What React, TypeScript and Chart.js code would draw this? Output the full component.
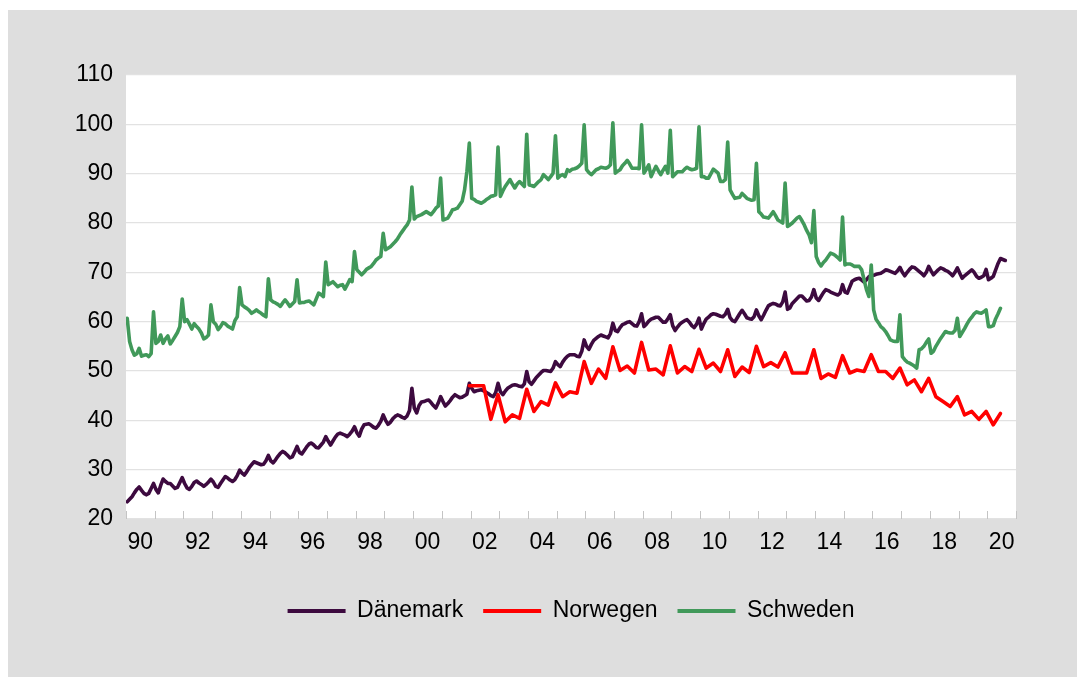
import React, { useEffect, useRef } from "react";
import { Chart, registerables } from "chart.js";

Chart.register(...registerables);

// ---------- data ----------
const startYear = 1990;
const endYear = 2021;
const xTickYears = [1990, 1992, 1994, 1996, 1998, 2000, 2002, 2004, 2006, 2008, 2010, 2012, 2014, 2016, 2018, 2020];
const xTickLabels = ["90", "92", "94", "96", "98", "00", "02", "04", "06", "08", "10", "12", "14", "16", "18", "20"];
const yMin = 20;
const yMax = 110;
const yStep = 10;

const seriesNames = ["Dänemark", "Norwegen", "Schweden"];
const seriesColors = ["#3d0a3f", "#ff0000", "#41995a"];

// monthly, from Jan 1990
const denmark = [
  23.5, 24, 24.5, 25.3, 26, 26.5, 25.8, 25.2, 24.9, 25.2, 26.2, 27.2,
  26, 25.3, 26.8, 28.1, 27.6, 27.2, 27.2, 26.7, 26.2, 26.4, 27.4, 28.4,
  27.2, 26.3, 26, 26.6, 27.4, 27.7, 27.3, 27, 26.6, 27, 27.5, 28.1,
  27.5, 26.6, 26.4, 27.2, 27.9, 28.6, 28.3, 27.9, 27.6, 28, 28.8, 29.9,
  29.3, 28.9, 29.6, 30.4, 31, 31.6, 31.4, 31.2, 31, 31.1, 31.8, 32.9,
  31.8, 31.4, 32, 32.7, 33.3, 33.7, 33.4, 32.9, 32.4, 32.6, 33.6, 34.7,
  33.5, 33.2, 33.9, 34.6, 35.2, 35.4, 35, 34.5, 34.4, 35, 35.6, 36.7,
  35.8, 35, 35.8, 36.6, 37.2, 37.4, 37.2, 37, 36.7, 37.2, 37.8, 38.7,
  37.5, 36.8, 38.2, 39.1, 39.2, 39.3, 39, 38.6, 38.4, 39, 39.8, 41.1,
  40, 39.2, 39.6, 40.3, 40.8, 41.1, 40.9, 40.6, 40.4, 40.9, 42, 46.5,
  42.5, 41.5, 43, 43.7, 43.8, 44, 44.1, 43.6, 43, 42.5, 43.5, 44.8,
  43.8, 42.9, 43.4, 44, 44.7, 45.2, 44.9, 44.6, 44.7, 45, 45.3, 47.5,
  46.5, 45.8, 46, 46.1, 46.2, 46, 45.7, 45.4, 45, 44.8, 45.6, 47.5,
  45.8, 45.2, 45.9, 46.5, 46.8, 47.1, 47.2, 47.1, 46.9, 46.8, 47.4, 49.9,
  47.8, 47.3, 48, 48.7, 49.2, 49.7, 50.1, 50.1, 50, 49.9, 50.6, 51.9,
  51.3, 50.9, 51.8, 52.5, 53, 53.3, 53.3, 53.3, 53, 52.9, 54, 56.3,
  55, 54.4, 55.4, 56.2, 56.6, 57, 57.3, 57.1, 56.9, 56.7, 57.6, 59.7,
  58.2, 58, 58.8, 59.4, 59.6, 59.9, 60, 59.6, 59.2, 59.1, 60, 61.6,
  59, 59.5, 60.1, 60.5, 60.7, 60.9, 60.9, 60.4, 59.9, 59.9, 60.6, 61.4,
  59.2, 58.2, 58.9, 59.5, 59.9, 60.2, 60.4, 59.9, 59.2, 58.8, 59.5, 60.7,
  58.5, 59.6, 60.5, 60.9, 61.4, 61.6, 61.5, 61.3, 61.1, 61, 61.5, 62.5,
  60.8, 60.2, 60, 60.8, 61.6, 62.3, 61.6, 60.8, 60.6, 60.5, 61, 62.4,
  61.2, 60.4, 61.3, 62.3, 63.2, 63.5, 63.7, 63.6, 63.3, 63.2, 64, 66,
  62.5, 62.8, 63.7, 64.2, 64.7, 65.2, 65.2, 64.7, 64.2, 64.3, 65, 66.5,
  64.8, 64.3, 65.1, 65.9, 66.5, 66.3, 66, 65.8, 65.6, 65.4, 65.8, 67.5,
  66, 65.8, 67, 68.2, 68.5, 68.7, 68.8, 68.4, 68, 68.5, 69.1, 69.3,
  69.4, 69.6, 69.7, 69.8, 70.1, 70.5, 70.4, 70.2, 70, 69.8, 70.3, 71,
  70, 69.3, 70, 70.6, 71.1, 71, 70.6, 70.2, 69.8, 69.3, 70, 71.2,
  70.3, 69.5, 70, 70.5, 70.9, 70.7, 70.4, 70.2, 69.8, 69.3, 70, 70.9,
  69.8, 68.8, 69.3, 69.7, 70.1, 70.5, 70, 69.2, 68.8, 69, 69.3, 70.6,
  68.5, 68.8, 69.2, 70.5, 71.8, 72.8, 72.6, 72.4,
];

// monthly, from Jan 1990
const sweden = [
  60.7, 56, 54.3, 53.2, 53.5, 54.6, 53, 53.2, 53.3, 52.9, 53.5, 62,
  55.6, 56, 57.3, 55.6, 56.5, 57.1, 55.5, 56.2, 57, 57.8, 59, 64.6,
  60, 60.4, 59.5, 58.5, 59.6, 59, 58.5, 57.7, 56.5, 56.8, 57.3, 63.4,
  60, 59.5, 58.4, 59, 59.8, 59.6, 59.1, 58.8, 58.5, 60.2, 61, 66.9,
  63.4, 63, 62.7, 62.3, 61.7, 62, 62.4, 62, 61.7, 61.3, 61, 68.7,
  64.4, 64, 63.8, 63.5, 63.1, 63.8, 64.4, 63.8, 63.1, 63.6, 64.1, 68.5,
  63.8, 63.9, 63.9, 64.1, 64.2, 63.8, 63.4, 64.6, 65.8, 65.5, 65.1, 72.1,
  67.5, 67.8, 68.1, 67.6, 67.1, 67.4, 67.5, 66.6, 67.5, 68.5, 68.1, 74.2,
  70.5, 70, 69.5, 70, 70.6, 70.9, 71.2, 71.8, 72.5, 72.9, 73.2, 77.9,
  74.6, 74.9, 75.2, 75.7, 76.2, 76.8, 77.6, 78.3, 79, 79.6, 80.6, 87.3,
  80.8, 81.3, 81.5, 81.7, 82, 82.3, 82, 81.7, 82.3, 83, 83.4, 89.1,
  80.6, 80.8, 81, 81.8, 82.7, 82.8, 83, 83.7, 84.4, 86.7, 90.5, 96.2,
  85, 84.8, 84.4, 84.2, 84, 84.3, 84.7, 85, 85.4, 85.5, 85.7, 95.4,
  85.4, 86.5, 87.4, 88.1, 88.8, 87.9, 87.1, 87.9, 88.4, 87.9, 87.4, 98,
  87.7, 87.6, 87.4, 87.9, 88.4, 88.8, 89.8, 89.3, 88.8, 89.4, 90.1, 97.7,
  89.1, 89.6, 89.8, 89.4, 90.8, 90.5, 90.9, 91, 91.2, 91.6, 92.1, 99.9,
  90.8, 90.2, 89.8, 90.3, 90.8, 91, 91.3, 91.2, 91.1, 91.3, 91.8, 100.3,
  90.1, 90.5, 90.8, 91.6, 92.1, 92.7, 92, 91.1, 91.1, 91.1, 91, 99.9,
  90.1, 90.9, 91.8, 89.4, 90.5, 91.5, 90.6, 89.8, 90.7, 91.5, 90.1, 98.8,
  89.4, 89.9, 90.4, 90.4, 90.4, 90.9, 91.3, 91, 90.8, 90.9, 91.1, 99.5,
  89.4, 89.4, 89.1, 89.1, 90, 90.9, 90.5, 90.1, 88.4, 88.4, 88.8, 96.4,
  86.7, 85.8, 85, 85.1, 85.2, 86, 85.5, 85, 84.8, 84.6, 84.7, 92.1,
  82.3, 81.8, 81.2, 81.1, 81, 81.6, 82.3, 81.5, 80.6, 80.3, 80, 88.1,
  79.3, 79.6, 80, 80.5, 81, 81.3, 80.5, 79.6, 78.5, 77.6, 76, 82.5,
  73.2, 72, 71.3, 72, 72.5, 73.2, 73.9, 73.7, 73.4, 73, 72.5, 81.2,
  71.5, 71.7, 71.7, 71.5, 71.2, 71.2, 71.2, 70.5, 68.5, 66.5, 65.1, 71.5,
  62.4, 60.5, 59.8, 59, 58.6, 58, 57.2, 56.3, 56.1, 56, 56, 61.4,
  52.9, 52.3, 51.8, 51.6, 51.3, 51, 50.6, 54.3, 54.5, 55, 55.8, 56.5,
  53.6, 54, 55, 55.8, 56.6, 57.3, 58, 57.8, 57.7, 57.7, 58.2, 60.7,
  57, 57.8, 58.6, 59.5, 60.3, 60.9, 61.6, 62, 61.8, 61.7, 62, 62.4,
  59, 59, 59.2, 60.6, 61.6, 62.7,
];

// quarterly (plotted at the quarter's last month), from Q4 2001
const norwayStartYear = 2001;
const norwayStartQuarter = 4;
const norway = [
  47,
  47, 47, 40.2, 45.2,
  39.7, 41.1, 40.4, 46.3,
  41.8, 43.8, 43.1, 47.6,
  44.8, 45.8, 45.5, 51.9,
  47.5, 50.4, 48.5, 54.9,
  50.1, 51, 49.6, 55.8,
  50.2, 50.4, 49.2, 55.1,
  49.6, 50.9, 49.9, 54.4,
  50.6, 51.6, 49.9, 54.3,
  48.9, 50.8, 49.7, 55,
  50.9, 51.7, 50.8, 53.7,
  49.6, 49.6, 49.6, 54.3,
  48.5, 49.4, 48.7, 53.1,
  49.6, 50.2, 49.9, 53.3,
  49.9, 49.9, 48.5, 50.6,
  47.2, 48.2, 45.8, 48.5,
  44.8, 43.8, 42.8, 44.8,
  41.1, 41.8, 40.2, 41.8,
  39.1, 41.4,
];

// ---------- helpers ----------
const monthly = (values: number[]) =>
  values.map((v, i) => ({ x: startYear + (i + 0.5) / 12, y: v }));

const quarterly = (values: number[], y0: number, q0: number) =>
  values.map((v, i) => {
    const qa = y0 * 4 + (q0 - 1) + i;
    const yr = Math.floor(qa / 4);
    const q = qa % 4;
    return { x: yr + (3 * q + 2.5) / 12, y: v };
  });

const FONT = { family: "'Liberation Sans', Arial, sans-serif", size: 23 };

const plotBackground = {
  id: "plotBackground",
  beforeDraw(chart: any) {
    const { ctx, chartArea } = chart;
    ctx.save();
    ctx.fillStyle = "#ffffff";
    ctx.fillRect(chartArea.left, chartArea.top, chartArea.right - chartArea.left, chartArea.bottom - chartArea.top);
    ctx.restore();
  },
};

const yearTicks = {
  id: "yearTicks",
  beforeDatasetsDraw(chart: any) {
    const { ctx, chartArea, scales } = chart;
    const x = scales.x;
    ctx.save();
    ctx.strokeStyle = "#c4c4c4";
    ctx.lineWidth = 1;
    for (let yr = startYear; yr <= endYear; yr++) {
      const px = Math.round(x.getPixelForValue(yr)) + 0.5;
      ctx.beginPath();
      ctx.moveTo(px, chartArea.bottom);
      ctx.lineTo(px, chartArea.bottom - 8);
      ctx.stroke();
    }
    ctx.restore();
  },
};

export default function App() {
  const ref = useRef<HTMLCanvasElement | null>(null);

  useEffect(() => {
    if (!ref.current) return;
    const datasets = [
      { label: seriesNames[0], data: monthly(denmark), order: 3 },
      { label: seriesNames[1], data: quarterly(norway, norwayStartYear, norwayStartQuarter), order: 2 },
      { label: seriesNames[2], data: monthly(sweden), order: 1 },
    ].map((d, i) => ({
      ...d,
      borderColor: seriesColors[i],
      backgroundColor: seriesColors[i],
      borderWidth: 3.6,
      borderJoinStyle: "round",
      borderCapStyle: "round",
      pointRadius: 0,
      tension: 0,
      fill: false,
    }));

    const chart = new Chart(ref.current, {
      type: "line",
      data: { datasets },
      plugins: [plotBackground, yearTicks],
      options: {
        animation: false,
        responsive: false,
        layout: { padding: { top: 65, right: 61, bottom: 44.5, left: 0 } },
        plugins: {
          tooltip: { enabled: false },
          legend: {
            position: "bottom",
            fullSize: false,
            labels: {
              boxWidth: 58,
              boxHeight: 4,
              padding: 20,
              font: FONT,
              color: "#000",
              generateLabels: (c: any) =>
                c.data.datasets.map((ds: any, i: number) => ({
                  text: ds.label,
                  fillStyle: ds.borderColor,
                  strokeStyle: ds.borderColor,
                  lineWidth: 0,
                  fontColor: "#000",
                  hidden: false,
                  datasetIndex: i,
                })),
            },
          },
        },
        scales: {
          x: {
            type: "linear",
            min: startYear,
            max: endYear,
            afterBuildTicks: (axis: any) => {
              axis.ticks = xTickYears.map((y) => ({ value: y + 0.5 }));
            },
            afterFit: (axis: any) => {
              axis.height = 60.5;
            },
            ticks: {
              autoSkip: false,
              maxRotation: 0,
              padding: 10,
              color: "#000",
              font: FONT,
              callback: (_v: any, i: number) => xTickLabels[i],
            },
            grid: { display: false, drawTicks: false },
            border: { display: false },
          },
          y: {
            min: yMin,
            max: yMax,
            afterFit: (axis: any) => {
              axis.width = 118;
            },
            ticks: {
              stepSize: yStep,
              padding: 13,
              color: "#000",
              font: FONT,
            },
            grid: { color: "#e2e2e2", lineWidth: 1.2, drawTicks: false },
            border: { display: false },
          },
        },
      },
    } as any);

    return () => chart.destroy();
  }, []);

  return (
    <div
      style={{
        position: "fixed",
        left: 8,
        top: 10,
        width: 1069,
        height: 667,
        background: "#dedede",
      }}
    >
      <canvas ref={ref} width={1069} height={667} style={{ display: "block", width: 1069, height: 667 }} />
    </div>
  );
}
